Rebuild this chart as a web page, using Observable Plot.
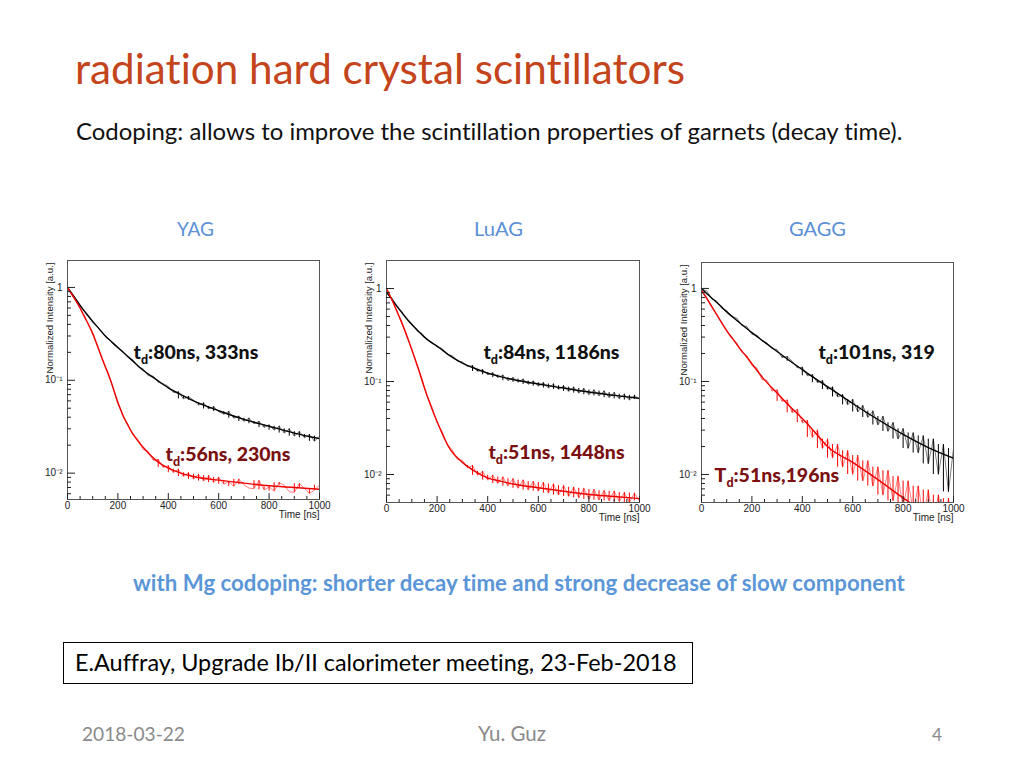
<!DOCTYPE html>
<html>
<head>
<meta charset="utf-8">
<script src="https://cdn.jsdelivr.net/npm/d3@7"></script>
<script src="https://cdn.jsdelivr.net/npm/@observablehq/plot@0.6"></script>
<style>
  html, body { margin: 0; padding: 0; background: #fff; }
  #slide { position: relative; width: 1024px; height: 768px; overflow: hidden; background: #fff; font-family: Lato, "Open Sans", sans-serif; font-variant-ligatures: none; }
  .t { position: absolute; white-space: nowrap; line-height: 1.2; font-variant-ligatures: none; }
  .panel { position: absolute; width: 300px; height: 280px; top: 250px; }
  #p1 { left: 30px; }
  #p2 { left: 349px; }
  #p3 { left: 664px; }
  #box { position: absolute; left: 63px; top: 642px; width: 630px; height: 42px; border: 1px solid #000; box-sizing: border-box; }
</style>
</head>
<body>
<div id="slide">
  <div id="box"></div>
  <div class="panel" id="p1"></div>
  <div class="panel" id="p2"></div>
  <div class="panel" id="p3"></div>
</div>
<script>
// ---------------- data ----------------
const sampleTimes = [0,20,40,60,80,100,120,140,160,180,200,220,240,260,280,300,320,340,360,380,400,420,440,460,480,500,520,540,560,580,600,620,640,660,680,700,720,740,760,780,800,820,840,860,880,900,920,940,960,980,1000];

// measured (noisy) normalized intensity
const yagUndopedData = [0.96,0.85,0.71,0.58,0.51,0.425,0.375,0.318,0.285,0.247,0.222,0.205,0.176,0.166,0.140,0.133,0.112,0.111,0.095,0.092,0.086,0.074,0.075,0.063,0.067,0.061,0.054,0.057,0.049,0.052,0.046,0.043,0.046,0.039,0.041,0.036,0.039,0.034,0.036,0.031,0.033,0.029,0.032,0.027,0.030,0.025,0.028,0.024,0.026,0.022,0.025];
const yagMgData = [0.98,0.81,0.68,0.52,0.42,0.31,0.235,0.16,0.124,0.083,0.059,0.041,0.033,0.026,0.023,0.018,0.0172,0.0138,0.0140,0.0115,0.0120,0.0101,0.0110,0.0092,0.0101,0.0086,0.0097,0.0082,0.0094,0.0079,0.0090,0.0076,0.0081,0.0072,0.0086,0.0075,0.0069,0.0068,0.0083,0.0066,0.0071,0.0064,0.0079,0.0074,0.0063,0.0062,0.0077,0.0069,0.0060,0.0066,0.0074];
const luagUndopedData = [0.88,0.80,0.64,0.57,0.47,0.42,0.35,0.33,0.28,0.265,0.235,0.226,0.195,0.19,0.165,0.162,0.145,0.148,0.128,0.134,0.118,0.124,0.110,0.117,0.102,0.110,0.098,0.106,0.093,0.101,0.089,0.097,0.085,0.094,0.082,0.090,0.078,0.087,0.075,0.084,0.072,0.081,0.070,0.079,0.067,0.076,0.065,0.073,0.063,0.071,0.064];
const luagMgData = [0.98,0.78,0.57,0.44,0.30,0.225,0.15,0.108,0.070,0.053,0.036,0.029,0.021,0.0185,0.0145,0.0142,0.0118,0.0125,0.0098,0.0108,0.0087,0.0098,0.0080,0.0094,0.0075,0.0090,0.0071,0.0087,0.0068,0.0084,0.0066,0.0082,0.0063,0.0079,0.0060,0.0076,0.0058,0.0073,0.0056,0.0071,0.0054,0.0069,0.0053,0.0067,0.0052,0.0066,0.0051,0.0064,0.0050,0.0063,0.0052];
const gaggUndopedData = [0.97,0.95,0.78,0.73,0.61,0.58,0.50,0.48,0.40,0.39,0.32,0.315,0.27,0.26,0.225,0.22,0.18,0.185,0.165,0.14,0.142,0.115,0.118,0.097,0.102,0.082,0.087,0.068,0.072,0.056,0.064,0.047,0.055,0.041,0.048,0.034,0.042,0.029,0.036,0.024,0.031,0.019,0.028,0.017,0.026,0.013,0.024,0.010,0.021,0.0065,0.019];
const gaggMgData = [0.93,0.80,0.63,0.53,0.42,0.36,0.29,0.26,0.205,0.19,0.148,0.14,0.105,0.103,0.079,0.081,0.061,0.063,0.046,0.050,0.036,0.038,0.025,0.030,0.019,0.024,0.015,0.021,0.012,0.018,0.010,0.016,0.0085,0.014,0.0075,0.012,0.006,0.011,0.0052,0.0095,0.0045,0.0085,0.004,0.0075,0.0035,0.0068,0.003,0.006,0.003,0.0055,0.003];

// fitted curves
const fitTimes = [0,25,50,75,100,125,150,175,200,250,300,350,400,450,500,600,700,800,900,1000];
const yagUndopedFit = [1.0,0.80,0.64,0.52,0.43,0.36,0.30,0.26,0.225,0.17,0.128,0.103,0.083,0.070,0.060,0.047,0.038,0.032,0.027,0.0235];
const yagMgFit = [1.0,0.78,0.60,0.44,0.32,0.21,0.14,0.093,0.057,0.029,0.019,0.0138,0.0113,0.0100,0.0092,0.0084,0.0078,0.0073,0.0070,0.0067];
const luagUndopedFit = [0.92,0.74,0.60,0.49,0.41,0.35,0.30,0.265,0.24,0.19,0.158,0.138,0.123,0.113,0.105,0.094,0.085,0.077,0.071,0.066];
const luagMgFit = [1.0,0.72,0.50,0.34,0.22,0.14,0.085,0.055,0.037,0.019,0.0135,0.0108,0.0092,0.0085,0.0079,0.0072,0.0066,0.0061,0.0058,0.0055];
const gaggUndopedFit = [1.0,0.86,0.75,0.65,0.56,0.49,0.43,0.38,0.335,0.265,0.21,0.167,0.134,0.108,0.088,0.058,0.039,0.027,0.0195,0.0150];
const gaggMgFit = [0.95,0.75,0.58,0.45,0.35,0.285,0.23,0.19,0.155,0.104,0.075,0.054,0.040,0.0285,0.020,0.0135,0.0088,0.0056,0.0037,0.0025];

// axis ticks
const xMajorTicks = [0,200,400,600,800,1000];
const xMinorTicks = [50,100,150,250,300,350,450,500,550,650,700,750,850,900,950];
const yMajorTicks = [1,0.1,0.01];
const yMajorLabels = ["1","10\u207B\u00B9","10\u207B\u00B2"];
const yMinorTicks = [0.006,0.007,0.008,0.009,0.02,0.03,0.04,0.05,0.06,0.07,0.08,0.09,0.2,0.3,0.4,0.5,0.6,0.7,0.8,0.9];
const xTitle = "Time [ns]";
const yTitle = "Normalized Intensity [a.u.]";

// panels and annotations
const crystals = ["YAG","LuAG","GAGG"];
const undopedLabels = ["td:80ns, 333ns","td:84ns, 1186ns","td:101ns, 319"];
const undopedLabelAt = [[262,0.20],[383,0.205],[464,0.205]];
const mgLabels = ["td:56ns, 230ns","td:51ns, 1448ns","Td:51ns,196ns"];
const mgLabelAt = [[389,0.0156],[403,0.0172],[52,0.0098]];

// ---------------- slide texts ----------------
const slideTexts = [
  {text: "radiation hard crystal scintillators", left: 75, base: 84, width: 610, color: "#C4441C", weight: 400},
  {text: "Codoping: allows to improve the scintillation properties of garnets (decay time).", left: 76, base: 140, width: 827, color: "#111", weight: 400},
  {text: crystals[0], left: 177, base: 236, width: 37, color: "#5B8FD6", weight: 400},
  {text: crystals[1], left: 474, base: 236, width: 49, color: "#5B8FD6", weight: 400},
  {text: crystals[2], left: 789, base: 236, width: 57, color: "#5B8FD6", weight: 400},
  {text: "with Mg codoping: shorter decay time and strong decrease of slow component", left: 133, base: 591, width: 772, color: "#5B96D7", weight: 700},
  {text: "E.Auffray, Upgrade Ib/II calorimeter meeting, 23-Feb-2018", left: 75, base: 671, width: 602, color: "#000", weight: 400},
  {text: "2018-03-22", left: 82, base: 741, width: 103, color: "#8A8A8A", weight: 400},
  {text: "Yu. Guz", left: 478, base: 741, width: 68, color: "#8A8A8A", weight: 400},
  {text: "4", left: 932, base: 741, width: 10, color: "#8A8A8A", weight: 400}
];

const slide = document.getElementById("slide");
for (const s of slideTexts) {
  const el = document.createElement("div");
  el.className = "t";
  el.textContent = s.text;
  el.style.color = s.color;
  el.style.fontWeight = s.weight;
  el.style.left = s.left + "px";
  el.style.top = "0px";
  el.style.fontSize = "100px";
  slide.appendChild(el);
  const w = el.getBoundingClientRect().width;
  el.style.fontSize = (100 * s.width / w) + "px";
  const probe = document.createElement("span");
  probe.style.display = "inline-block";
  probe.style.width = "0px";
  probe.style.height = "0px";
  el.appendChild(probe);
  const off = probe.getBoundingClientRect().top - el.getBoundingClientRect().top;
  el.removeChild(probe);
  el.style.top = (s.base - off) + "px";
}

// ---------------- panels ----------------
const panelCfg = [
  {id: "p1", dataB: yagUndopedData, dataR: yagMgData, fitB: yagUndopedFit, fitR: yagMgFit, dom: [0.0052, 1.95], ml: 37, mr: 11, mt: 10, mb: 31},
  {id: "p2", dataB: luagUndopedData, dataR: luagMgData, fitB: luagUndopedFit, fitR: luagMgFit, dom: [0.005, 2.0], ml: 37, mr: 10, mt: 10, mb: 28},
  {id: "p3", dataB: gaggUndopedData, dataR: gaggMgData, fitB: gaggUndopedFit, fitR: gaggMgFit, dom: [0.005, 1.9], ml: 37, mr: 11, mt: 12, mb: 28}
];
const yLabel = new Map(yMajorTicks.map((d, i) => [d, yMajorLabels[i]]));
const rows = (ts, vs) => ts.map((t, i) => ({t, v: vs[i]}));
// each measured sample drawn as a vertical bar to the next sample, where the measurement fluctuates
const bars = (ts, vs) => ts.slice(0, -1)
  .map((t, i) => ({t, v: vs[i], next: vs[i + 1], noisy: vs[i + 1] > vs[i] || (i > 0 && vs[i] > vs[i - 1])}))
  .filter(d => d.noisy);
const annotFont = {fontFamily: "Lato, sans-serif", fontWeight: 900, fontSize: 19.5, textAnchor: "start"};

panelCfg.forEach((c, k) => {
  const plot = Plot.plot({
    width: 300, height: 280,
    marginLeft: c.ml, marginRight: c.mr, marginTop: c.mt, marginBottom: c.mb,
    style: {fontFamily: '"Liberation Sans", Arial, sans-serif', fontSize: "10px", color: "#222", background: "transparent", overflow: "visible"},
    x: {domain: [0, 1000], label: null},
    y: {type: "log", domain: c.dom, label: null},
    marks: [
      Plot.line(rows(sampleTimes, c.dataB), {x: "t", y: "v", stroke: "#000", strokeWidth: 0.5, clip: true}),
      Plot.line(rows(sampleTimes, c.dataR), {x: "t", y: "v", stroke: "#ff0000", strokeWidth: 0.5, clip: true}),
      Plot.ruleX(bars(sampleTimes, c.dataB), {x: "t", y1: "v", y2: "next", stroke: "#000", strokeWidth: 1, clip: true}),
      Plot.ruleX(bars(sampleTimes, c.dataR), {x: "t", y1: "v", y2: "next", stroke: "#ff0000", strokeWidth: 1, clip: true}),
      Plot.line(rows(fitTimes, c.fitB), {x: "t", y: "v", stroke: "#000", strokeWidth: 1.4, curve: "monotone-x", clip: true}),
      Plot.line(rows(fitTimes, c.fitR), {x: "t", y: "v", stroke: "#ee0000", strokeWidth: 1.4, curve: "monotone-x", clip: true}),
      Plot.frame({stroke: "#555"}),
      Plot.axisX(xMajorTicks, {tickSize: -6, tickPadding: 8, tickFormat: d => String(d), label: null}),
      Plot.axisX(xMinorTicks, {tickSize: -3, fill: "none", label: null}),
      Plot.axisY(yMajorTicks, {tickSize: -8, tickPadding: 13, tickFormat: d => yLabel.get(d), label: null}),
      Plot.axisY(yMinorTicks, {tickSize: -4, fill: "none", label: null}),
      Plot.text([yTitle], {text: d => d, frameAnchor: "top-left", rotate: -90, textAnchor: "end", dx: -21, dy: 2, fontSize: 9.6, fill: "#222"}),
      Plot.text([xTitle], {text: d => d, frameAnchor: "bottom-right", textAnchor: "end", dy: 18, fontSize: 10, fill: "#222"}),
      Plot.text([undopedLabels[k]], {x: () => undopedLabelAt[k][0], y: () => undopedLabelAt[k][1], text: d => d, ...annotFont, fill: "#111"}),
      Plot.text([mgLabels[k]], {x: () => mgLabelAt[k][0], y: () => mgLabelAt[k][1], text: d => d, ...annotFont, fill: "#7A1010"})
    ]
  });
  const ns = "http://www.w3.org/2000/svg";
  plot.querySelectorAll("text").forEach(el => {
    if (el.children.length) return;
    const m = el.textContent.match(/^([tT])d(:.*)$/);
    if (!m) return;
    el.textContent = "";
    const a = document.createElementNS(ns, "tspan"); a.textContent = m[1];
    const b = document.createElementNS(ns, "tspan"); b.textContent = "d"; b.setAttribute("font-size", "12.5"); b.setAttribute("dy", "5");
    const cc = document.createElementNS(ns, "tspan"); cc.textContent = m[2]; cc.setAttribute("dy", "-5");
    el.append(a, b, cc);
  });
  document.getElementById(c.id).appendChild(plot);
});
</script>
</body>
</html>
